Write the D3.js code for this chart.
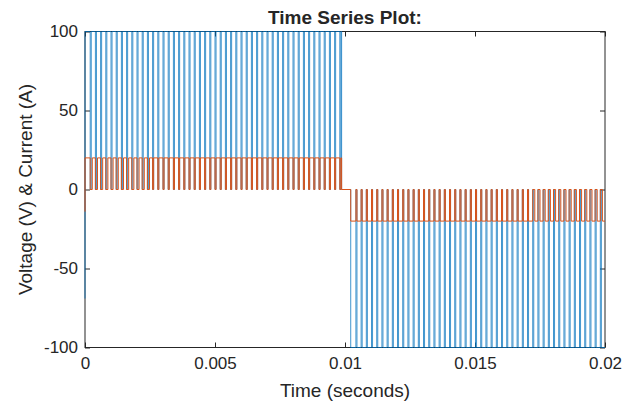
<!DOCTYPE html>
<html>
<head>
<meta charset="utf-8">
<script src="https://cdn.jsdelivr.net/npm/d3@7"></script>
<style>
  body { margin: 0; background: #fff; }
  svg text { font-family: "Liberation Sans", Arial, Helvetica, sans-serif; fill: #262626; }
</style>
</head>
<body>
<div id="chart"></div>
<script>
// Datos (tiempo en segundos)
const xTicks = [0, 0.005, 0.01, 0.015, 0.02];
const xTickLabels = ["0", "0.005", "0.01", "0.015", "0.02"];
const yTicks = [-100, -50, 0, 50, 100];
const yTickLabels = ["-100", "-50", "0", "50", "100"];

// Valores iniciales en t = 0
const voltageStart = -69;
const currentStart = -14;

// Niveles de la señal
const voltageLevels = [100, -100];
const currentLevels = [20, -20];

// Primera mitad: instantes en que la señal cae a 0
const dipTimesA = [0.0002, 0.0004, 0.0006, 0.0008, 0.0010, 0.0012, 0.0014, 0.0016, 0.0018, 0.0020,
  0.0022, 0.0024, 0.0026, 0.0028, 0.0030, 0.0032, 0.0034, 0.0036, 0.0038, 0.0040,
  0.0042, 0.0044, 0.0046, 0.0048, 0.0050, 0.0052, 0.0054, 0.0056, 0.0058, 0.0060,
  0.0062, 0.0064, 0.0066, 0.0068, 0.0070, 0.0072, 0.0074, 0.0076, 0.0078, 0.0080,
  0.0082, 0.0084, 0.0086, 0.0088, 0.0090, 0.0092, 0.0094, 0.0096, 0.0098];

// Zona muerta entre las dos mitades
const deadZone = [0.00987, 0.01022];

// Segunda mitad: instantes en que la señal sube a 0
const dipTimesB = [0.01042, 0.01062, 0.01082, 0.01102, 0.01122, 0.01142, 0.01162, 0.01182, 0.01202, 0.01222,
  0.01242, 0.01262, 0.01282, 0.01302, 0.01322, 0.01342, 0.01362, 0.01382, 0.01402, 0.01422,
  0.01442, 0.01462, 0.01482, 0.01502, 0.01522, 0.01542, 0.01562, 0.01582, 0.01602, 0.01622,
  0.01642, 0.01662, 0.01682, 0.01702, 0.01722, 0.01742, 0.01762, 0.01782, 0.01802, 0.01822,
  0.01842, 0.01862, 0.01882, 0.01902, 0.01922, 0.01942, 0.01962, 0.01982];

// Duración de cada caída
const voltageDipLen = 0.00004;
const currentDipLenA = [0.00008, 0.00008, 0.00008, 0.00008, 0.00008, 0.00008, 0.00008, 0.00008, 0.00008, 0.00008,
  0.00008, 0.00008, 0.00004, 0.00004, 0.00004, 0.00004, 0.00004, 0.00004, 0.00004, 0.00004,
  0.00004, 0.00004, 0.00004, 0.00004, 0.00004, 0.00004, 0.00004, 0.00004, 0.00004, 0.00004,
  0.00004, 0.00004, 0.00004, 0.00004, 0.00004, 0.00004, 0.00004, 0.00004, 0.00004, 0.00004,
  0.00004, 0.00004, 0.00004, 0.00004, 0.00004, 0.00004, 0.00004, 0.00004, 0.00004];
const currentDipLenB = [0.00004, 0.00004, 0.00004, 0.00004, 0.00004, 0.00004, 0.00004, 0.00004, 0.00004, 0.00004,
  0.00004, 0.00004, 0.00004, 0.00004, 0.00004, 0.00004, 0.00004, 0.00004, 0.00004, 0.00004,
  0.00004, 0.00004, 0.00004, 0.00004, 0.00004, 0.00004, 0.00004, 0.00004, 0.00004, 0.00004,
  0.00004, 0.00004, 0.00004, 0.00004, 0.00008, 0.00008, 0.00008, 0.00008, 0.00008, 0.00008,
  0.00008, 0.00008, 0.00008, 0.00008, 0.00008, 0.00008, 0.00008, 0.00008];

// Configuración del gráfico
const W = 639, H = 409;
const margin = { top: 31.5, right: 34, bottom: 61.5, left: 85 };
const width = W - margin.left - margin.right;
const height = H - margin.top - margin.bottom;

const svg = d3.select("#chart").append("svg")
  .attr("width", W)
  .attr("height", H);

const g = svg.append("g")
  .attr("transform", `translate(${margin.left},${margin.top})`);

const x = d3.scaleLinear().domain([0, 0.02]).range([0, width]);
const y = d3.scaleLinear().domain([-100, 100]).range([height, 0]);

// Construir la serie a partir de los instantes
function buildSeries(start, levels, lenA, lenB) {
  const pts = [[0, start], [0, levels[0]]];
  dipTimesA.forEach((t, k) => {
    const w = Array.isArray(lenA) ? lenA[k] : lenA;
    pts.push([t, levels[0]], [t, 0], [t + w, 0], [t + w, levels[0]]);
  });
  pts.push([deadZone[0], levels[0]], [deadZone[0], 0], [deadZone[1], 0], [deadZone[1], levels[1]]);
  dipTimesB.forEach((t, k) => {
    const w = Array.isArray(lenB) ? lenB[k] : lenB;
    pts.push([t, levels[1]], [t, 0], [t + w, 0], [t + w, levels[1]]);
  });
  pts.push([0.02, levels[1]]);
  return pts;
}

const voltage = buildSeries(voltageStart, voltageLevels, voltageDipLen, voltageDipLen);
const current = buildSeries(currentStart, currentLevels, currentDipLenA, currentDipLenB);

// Ejes (marcas hacia dentro, como MATLAB)
const xAxis = g.append("g")
  .attr("transform", `translate(0,${height})`)
  .call(d3.axisBottom(x).tickValues(xTicks).tickFormat((d, i) => xTickLabels[i])
    .tickSizeInner(-5).tickSizeOuter(0).tickPadding(9));
const yAxis = g.append("g")
  .call(d3.axisLeft(y).tickValues(yTicks).tickFormat((d, i) => yTickLabels[i])
    .tickSizeInner(-5).tickSizeOuter(0).tickPadding(7));
const topAxis = g.append("g")
  .call(d3.axisTop(x).tickValues(xTicks).tickFormat("").tickSizeInner(-5).tickSizeOuter(0));
const rightAxis = g.append("g")
  .attr("transform", `translate(${width},0)`)
  .call(d3.axisRight(y).tickValues(yTicks).tickFormat("").tickSizeInner(-5).tickSizeOuter(0));

[xAxis, yAxis, topAxis, rightAxis].forEach(a => {
  a.select(".domain").remove();
  a.selectAll("line").attr("stroke", "#262626");
  a.selectAll("text").style("font-size", "17px").attr("fill", "#262626");
});

// Caja
g.append("rect")
  .attr("x", 0).attr("y", 0)
  .attr("width", width).attr("height", height)
  .attr("fill", "none")
  .attr("stroke", "#262626")
  .attr("stroke-width", 1);

// Líneas de datos
g.append("clipPath").attr("id", "clip")
  .append("rect").attr("x", -1).attr("y", -1).attr("width", width + 2).attr("height", height + 2);

const line = d3.line().x(d => x(d[0])).y(d => y(d[1]));

g.append("path")
  .datum(voltage)
  .attr("clip-path", "url(#clip)")
  .attr("fill", "none")
  .attr("stroke", "#0072BD")
  .attr("stroke-width", 0.75)
  .attr("d", line);

g.append("path")
  .datum(current)
  .attr("clip-path", "url(#clip)")
  .attr("fill", "none")
  .attr("stroke", "#D95319")
  .attr("stroke-width", 1)
  .attr("d", line);

// Títulos
svg.append("text")
  .attr("x", margin.left + width / 2)
  .attr("y", 24)
  .attr("text-anchor", "middle")
  .style("font-size", "19px")
  .style("font-weight", "bold")
  .text("Time Series Plot:");

svg.append("text")
  .attr("x", margin.left + width / 2)
  .attr("y", 397)
  .attr("text-anchor", "middle")
  .style("font-size", "19px")
  .text("Time (seconds)");

svg.append("text")
  .attr("transform", `translate(32,${margin.top + height / 2}) rotate(-90)`)
  .attr("text-anchor", "middle")
  .style("font-size", "19px")
  .text("Voltage (V) & Current (A)");
</script>
</body>
</html>
